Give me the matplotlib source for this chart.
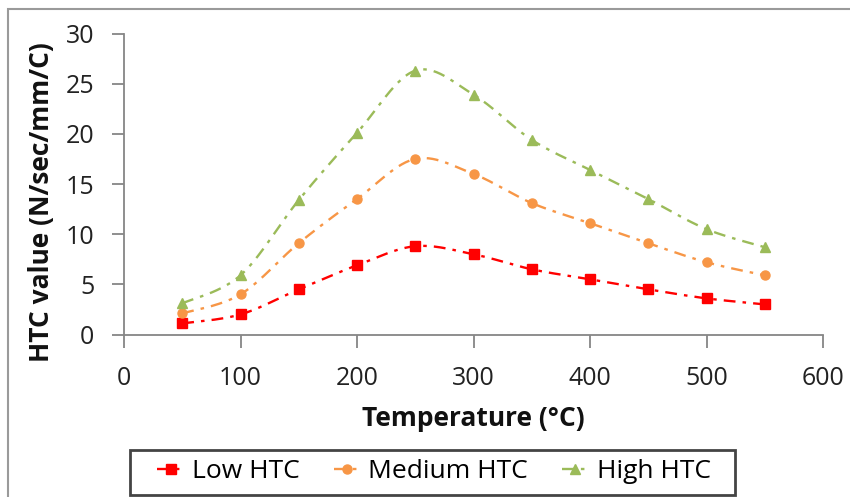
import numpy as np
import matplotlib
matplotlib.use("Agg")
import matplotlib.pyplot as plt
from matplotlib.lines import Line2D
from matplotlib.patches import Rectangle

plt.rcParams['font.family'] = ['Open Sans', 'DejaVu Sans']

temperature = [50, 100, 150, 200, 250, 300, 350, 400, 450, 500, 550]
low_htc = [1.1, 2.0, 4.5, 6.9, 8.8, 8.0, 6.5, 5.5, 4.5, 3.6, 3.0]
medium_htc = [2.1, 4.0, 9.1, 13.5, 17.5, 16.0, 13.1, 11.1, 9.1, 7.2, 5.9]
high_htc = [3.1, 5.9, 13.4, 20.1, 26.3, 23.9, 19.4, 16.4, 13.5, 10.5, 8.7]

series_names = ["Low HTC", "Medium HTC", "High HTC"]
colors = ["#FF0000", "#F79646", "#9BBB59"]
markers = ["s", "o", "^"]

x_ticks = [0, 100, 200, 300, 400, 500, 600]
y_ticks = [0, 5, 10, 15, 20, 25, 30]


def smooth_curve(xs, ys, steps=30):
    """Cardinal (Catmull-Rom) Bezier smoothing through every point."""
    xs = np.asarray(xs, float)
    ys = np.asarray(ys, float)
    n = len(xs)
    out_x, out_y = [], []
    for i in range(n - 1):
        p0 = np.array([xs[max(i - 1, 0)], ys[max(i - 1, 0)]])
        p1 = np.array([xs[i], ys[i]])
        p2 = np.array([xs[i + 1], ys[i + 1]])
        p3 = np.array([xs[min(i + 2, n - 1)], ys[min(i + 2, n - 1)]])
        c1 = p1 + (p2 - p0) / 6.0
        c2 = p2 - (p3 - p1) / 6.0
        t = np.linspace(0, 1, steps, endpoint=(i == n - 2))[:, None]
        pts = ((1 - t) ** 3) * p1 + 3 * ((1 - t) ** 2) * t * c1 \
            + 3 * (1 - t) * t ** 2 * c2 + t ** 3 * p2
        out_x.extend(pts[:, 0])
        out_y.extend(pts[:, 1])
    return np.array(out_x), np.array(out_y)


W, H = 850, 497
fig = plt.figure(figsize=(W / 100, H / 100), dpi=100)
ax = fig.add_axes([124 / W, 1 - 334.5 / H, (823 - 124) / W, (334.5 - 33.5) / H])

dash = (0, (5, 3, 1.5, 3))
handles = []
for name, vals, col, mk in zip(series_names, [low_htc, medium_htc, high_htc], colors, markers):
    sx, sy = smooth_curve(temperature, vals)
    ax.plot(sx, sy, color=col, lw=1.7, linestyle=dash, zorder=2)
    ms = 7.5 if mk == "^" else 6.5
    ax.plot(temperature, vals, linestyle="none", marker=mk, color=col,
            markersize=ms, zorder=3)
    handles.append(Line2D([], [], color=col, lw=1.7, linestyle=dash,
                          marker=mk, markersize=ms, label=name))

ax.set_xlim(0, 600)
ax.set_ylim(0, 30)
ax.set_xticks(x_ticks)
ax.set_yticks(y_ticks)
ax.tick_params(axis="both", labelsize=18, colors="#868686", labelcolor="#222222",
               length=9, width=1.3, direction="out")
ax.tick_params(axis="x", pad=14)
ax.tick_params(axis="y", pad=12.5)
for side in ["top", "right"]:
    ax.spines[side].set_visible(False)
for side in ["left", "bottom"]:
    ax.spines[side].set_color("#868686")
    ax.spines[side].set_linewidth(1.3)

fig.text(473.5 / W, 1 - 419 / H, "Temperature (°C)", fontsize=19, fontweight="bold",
         color="#111111", ha="center", va="center")
fig.text(42 / W, 1 - 202 / H, "HTC value (N/sec/mm/C)", fontsize=19, fontweight="bold",
         color="#111111", ha="center", va="center", rotation=90)

leg = fig.legend(handles=handles, loc="center", bbox_to_anchor=(434 / W, 1 - 472 / H),
                 ncol=3, fontsize=19, frameon=False,
                 handlelength=1.0, handletextpad=0.3, columnspacing=1.3,
                 borderpad=0.25)

# legend border
fig.patches.append(Rectangle((130 / W, 1 - 494.5 / H), 605 / W, 44.5 / H,
                             transform=fig.transFigure, fill=False,
                             edgecolor="#444444", lw=2.0, zorder=5))

# outer chart frame
fig.patches.append(Rectangle((8 / W, -0.1), 1.2, 1 - 9 / H + 0.1,
                             transform=fig.transFigure, fill=False,
                             edgecolor="#9a9a9a", lw=1.5, zorder=0))

fig.savefig("out.png", dpi=100)
